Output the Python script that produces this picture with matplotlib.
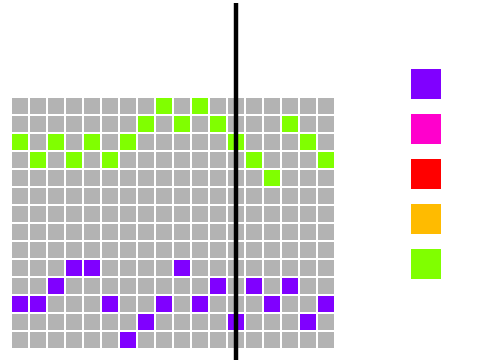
import matplotlib
matplotlib.use("Agg")
import matplotlib.pyplot as plt
from matplotlib.colors import ListedColormap
import numpy as np

n_rows, n_cols = 14, 18
# (row, col) of the coloured cells, row 0 at the top
green_cells = [(0, 8), (0, 10),
               (1, 7), (1, 9), (1, 11), (1, 15),
               (2, 0), (2, 2), (2, 4), (2, 6), (2, 12), (2, 16),
               (3, 1), (3, 3), (3, 5), (3, 13), (3, 17),
               (4, 14)]
purple_cells = [(9, 3), (9, 4), (9, 9),
                (10, 2), (10, 11), (10, 13), (10, 15),
                (11, 0), (11, 1), (11, 5), (11, 8), (11, 10), (11, 14), (11, 17),
                (12, 7), (12, 12), (12, 16),
                (13, 6)]
marker_col = 12.5

legend_colors = ['#8000ff', '#ff00cc', '#ff0000', '#ffbb00', '#80ff00']
cell_colors = ['#b3b3b3', '#8000ff', '#80ff00']

grid = np.zeros((n_rows, n_cols))
for r, c in purple_cells:
    grid[r, c] = 1
for r, c in green_cells:
    grid[r, c] = 2

fig = plt.figure(figsize=(4.8, 3.6), dpi=100)

ax = fig.add_axes([11 / 480, 11 / 360, 324 / 480, 252 / 360])
ax.pcolormesh(grid, cmap=ListedColormap(cell_colors), vmin=-0.5, vmax=2.5,
              edgecolors='white', linewidth=1.4)
ax.set_xlim(0, n_cols)
ax.set_ylim(n_rows, 0)
ax.axis('off')
ax.plot([marker_col, marker_col], [-5.2, 14.8], color='black', lw=3.2,
        clip_on=False, solid_capstyle='butt')

lax = fig.add_axes([411 / 480, (360 - 286.5) / 360, 30 / 480, 225 / 360])
lax.barh(np.arange(len(legend_colors)), 1, height=30 / 45, left=0,
         color=legend_colors)
lax.set_xlim(0, 1)
lax.set_ylim(len(legend_colors) - 0.5, -0.5)
lax.axis('off')

fig.savefig('out.png', dpi=100)
